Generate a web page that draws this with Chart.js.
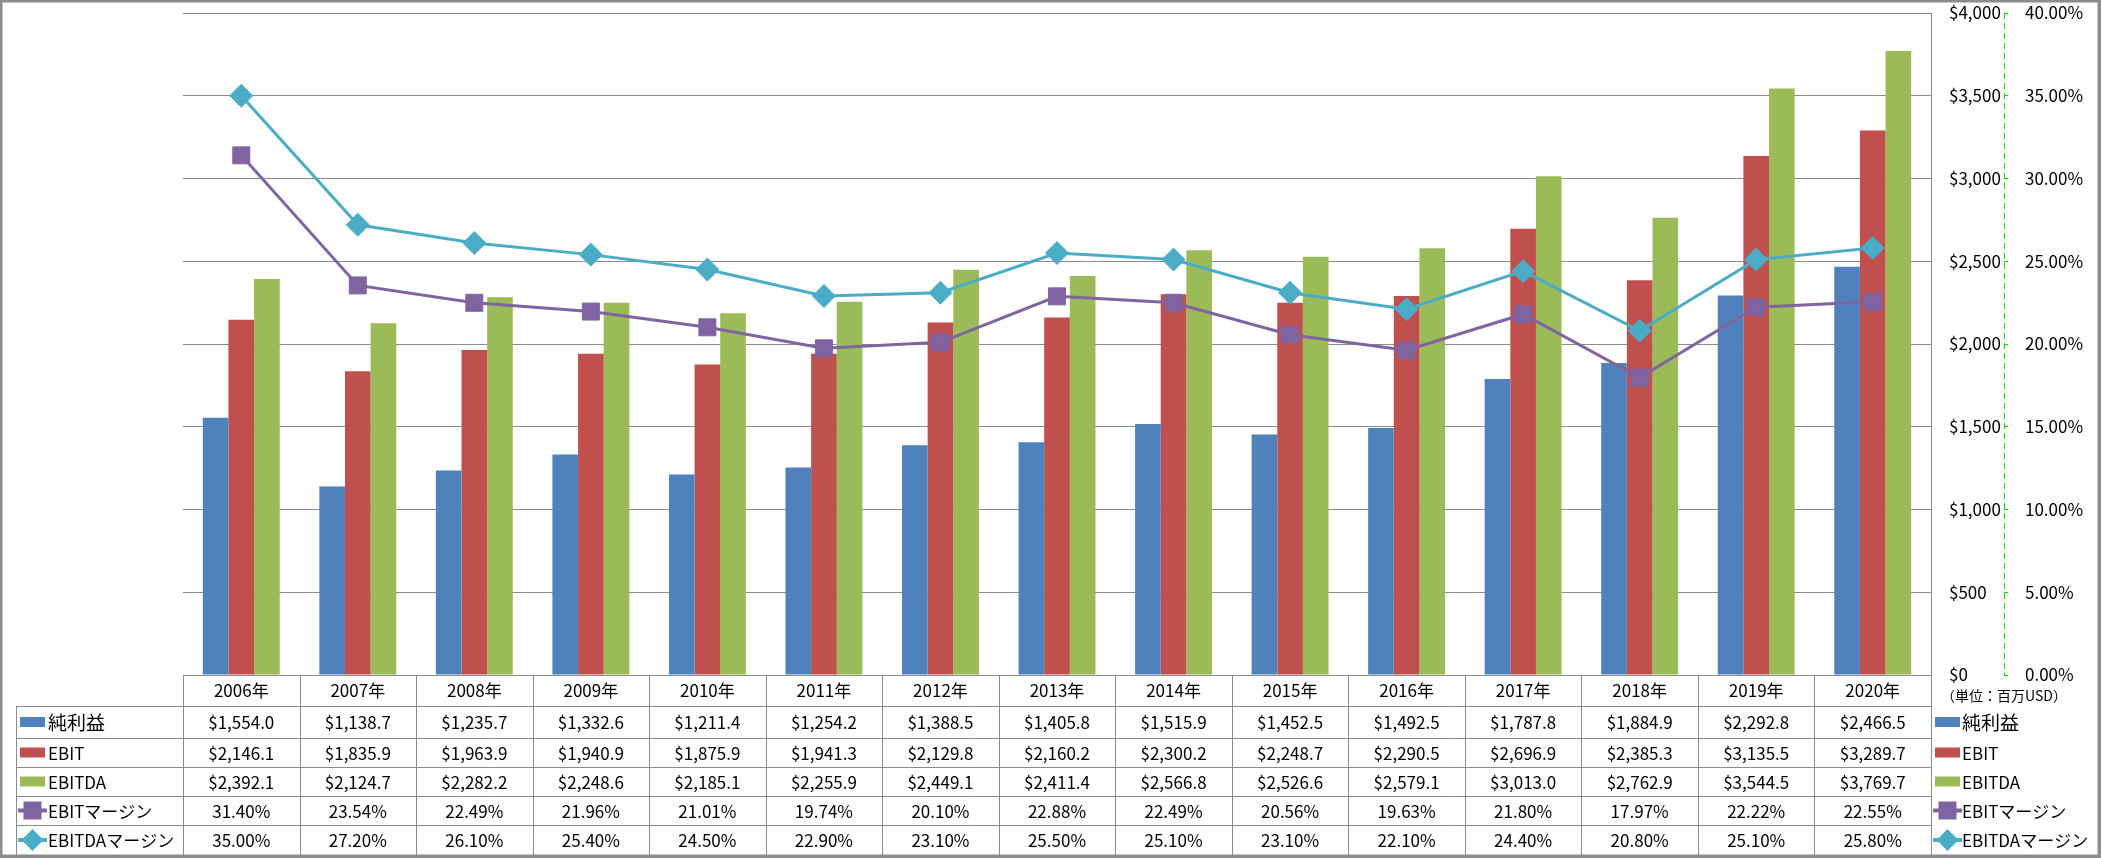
<!DOCTYPE html>
<html lang="ja">

<head>
    <meta charset="UTF-8">
    <title>純利益・EBIT・EBITDA</title>
    <script src="https://cdn.jsdelivr.net/npm/chart.js"></script>
    <style>
        body { margin: 0; background: #fff; }
        #caixa { position: relative; width: 2101px; height: 858px; }
    </style>
</head>

<body>
    <div id="caixa">
        <canvas id="grafico" width="2101" height="858"></canvas>
    </div>
</body>

</html>
<script>
    var anos = ['2006年', '2007年', '2008年', '2009年', '2010年', '2011年', '2012年', '2013年',
        '2014年', '2015年', '2016年', '2017年', '2018年', '2019年', '2020年'];

    var nomes = ['純利益', 'EBIT', 'EBITDA', 'EBITマージン', 'EBITDAマージン'];

    var lucro = [1554.0, 1138.7, 1235.7, 1332.6, 1211.4, 1254.2, 1388.5, 1405.8, 1515.9, 1452.5, 1492.5, 1787.8, 1884.9, 2292.8, 2466.5];
    var ebit = [2146.1, 1835.9, 1963.9, 1940.9, 1875.9, 1941.3, 2129.8, 2160.2, 2300.2, 2248.7, 2290.5, 2696.9, 2385.3, 3135.5, 3289.7];
    var ebitda = [2392.1, 2124.7, 2282.2, 2248.6, 2185.1, 2255.9, 2449.1, 2411.4, 2566.8, 2526.6, 2579.1, 3013.0, 2762.9, 3544.5, 3769.7];
    var margemEbit = [31.40, 23.54, 22.49, 21.96, 21.01, 19.74, 20.10, 22.88, 22.49, 20.56, 19.63, 21.80, 17.97, 22.22, 22.55];
    var margemEbitda = [35.00, 27.20, 26.10, 25.40, 24.50, 22.90, 23.10, 25.50, 25.10, 23.10, 22.10, 24.40, 20.80, 25.10, 25.80];

    var cores = ['#4F81BD', '#C0504D', '#9BBB59', '#8064A2', '#4BACC6'];
    var fonte = '"Noto Sans CJK JP", "Noto Sans", sans-serif';
    var cinza = '#8c8c8c';
    var verde = '#00e000';

    function dinheiro(v) {
        return '$' + v.toLocaleString('en-US', { minimumFractionDigits: 1, maximumFractionDigits: 1 });
    }

    // chave da legenda (barra ou linha com marcador)
    function chave(ctx, i, x, y) {
        ctx.fillStyle = cores[i];
        ctx.strokeStyle = cores[i];
        if (i < 3) {
            ctx.fillRect(x, y - 5, 25, 10);
            return;
        }
        ctx.lineWidth = 4;
        ctx.beginPath();
        ctx.moveTo(x - 2, y);
        ctx.lineTo(x + 27, y);
        ctx.stroke();
        var cx = x + 12.5;
        ctx.beginPath();
        if (i == 3) {
            ctx.rect(cx - 9, y - 9, 18, 18);
        } else {
            ctx.moveTo(cx, y - 11);
            ctx.lineTo(cx + 11, y);
            ctx.lineTo(cx, y + 11);
            ctx.lineTo(cx - 11, y);
            ctx.closePath();
        }
        ctx.fill();
    }

    // tabela de dados embaixo + legenda da direita + moldura
    var tabela = {
        id: 'tabela',
        afterDraw: function (chart) {
            var ctx = chart.ctx;
            var x = chart.scales.x;
            var y1 = chart.scales.y1;
            var w = (x.right - x.left) / anos.length;
            var linhas = [chart.chartArea.bottom, 706, 738, 767, 796, 825, 855];
            var esq = 16;
            var series = [lucro, ebit, ebitda, margemEbit, margemEbitda];

            ctx.save();
            // linha tracejada do eixo da direita (o border.dash do chart.js nao vale pra linha do eixo)
            ctx.strokeStyle = verde;
            ctx.lineWidth = 1;
            ctx.setLineDash([6, 4]);
            ctx.beginPath();
            ctx.moveTo(Math.round(y1.left) + 0.5, y1.top);
            ctx.lineTo(Math.round(y1.left) + 0.5, y1.bottom);
            ctx.stroke();
            ctx.setLineDash([]);

            ctx.strokeStyle = cinza;
            ctx.beginPath();
            // horizontais
            ctx.moveTo(x.left, linhas[0] + 0.5);
            ctx.lineTo(x.right, linhas[0] + 0.5);
            for (var r = 1; r < linhas.length - 1; r++) {
                ctx.moveTo(esq, linhas[r] + 0.5);
                ctx.lineTo(x.right, linhas[r] + 0.5);
            }
            // verticais
            for (var c = 0; c <= anos.length; c++) {
                var px = Math.round(x.left + c * w) + 0.5;
                ctx.moveTo(px, linhas[0]);
                ctx.lineTo(px, linhas[6]);
            }
            ctx.moveTo(esq + 0.5, linhas[1]);
            ctx.lineTo(esq + 0.5, linhas[6]);
            ctx.stroke();

            ctx.font = '17px ' + fonte;
            ctx.fillStyle = '#000';
            ctx.textBaseline = 'middle';
            ctx.textAlign = 'center';
            for (var c = 0; c < anos.length; c++) {
                var cx = x.getPixelForValue(c);
                ctx.fillText(anos[c], cx, (linhas[0] + linhas[1]) / 2);
                for (var s = 0; s < 5; s++) {
                    var v = series[s][c];
                    var txt = s < 3 ? dinheiro(v) : v.toFixed(2) + '%';
                    ctx.fillText(txt, cx, (linhas[s + 1] + linhas[s + 2]) / 2 + 1);
                }
            }

            // legendas (esquerda na tabela e direita)
            for (var s = 0; s < 5; s++) {
                var cy = (linhas[s + 1] + linhas[s + 2]) / 2;
                chave(ctx, s, 20, cy);
                chave(ctx, s, 1935, cy);
                ctx.fillStyle = '#000';
                ctx.textAlign = 'left';
                ctx.font = (s == 0 ? '19px ' : '17px ') + fonte;
                ctx.fillText(nomes[s], 48, cy + 1);
                ctx.fillText(nomes[s], 1962, cy + 1);
            }

            ctx.font = '14px ' + fonte;
            ctx.textAlign = 'center';
            ctx.fillText('（単位：百万USD）', 2004, 696);

            // moldura
            ctx.strokeStyle = cinza;
            ctx.strokeRect(0.5, 0.5, 2099, 856);
            ctx.restore();
        }
    };

    // o padding dos ticks entra no topo do grafico, entao zera aqui
    function largura(n) {
        return function (s) {
            s.width = n;
            s.paddingTop = 0;
            s.paddingBottom = 0;
        };
    }

    var config = {
        type: 'bar',
        data: {
            labels: anos,
            datasets: [
                {
                    type: 'line', label: nomes[3], data: margemEbit, yAxisID: 'y1', order: 0,
                    borderColor: cores[3], backgroundColor: cores[3], borderWidth: 3,
                    pointStyle: 'rect', pointRadius: 12, pointBorderWidth: 1, tension: 0
                },
                {
                    type: 'line', label: nomes[4], data: margemEbitda, yAxisID: 'y1', order: 0,
                    borderColor: cores[4], backgroundColor: cores[4], borderWidth: 3,
                    pointStyle: 'rectRot', pointRadius: 11.5, pointBorderWidth: 1, tension: 0
                },
                { label: nomes[0], data: lucro, backgroundColor: cores[0], yAxisID: 'y', order: 1 },
                { label: nomes[1], data: ebit, backgroundColor: cores[1], yAxisID: 'y', order: 1 },
                { label: nomes[2], data: ebitda, backgroundColor: cores[2], yAxisID: 'y', order: 1 }
            ]
        },
        options: {
            responsive: false,
            animation: false,
            layout: { autoPadding: false, padding: { left: 183, top: 13, right: 5, bottom: 183 } },
            plugins: { legend: { display: false }, tooltip: { enabled: false } },
            datasets: { bar: { categoryPercentage: 0.66, barPercentage: 1 } },
            scales: {
                x: { display: false, offset: true },
                y: {
                    position: 'right', weight: 0, min: 0, max: 4000,
                    ticks: {
                        stepSize: 500, padding: 18, color: '#000', font: { size: 17, family: fonte },
                        callback: function (v) { return '$' + v.toLocaleString('en-US'); }
                    },
                    grid: { color: cinza, drawTicks: false },
                    border: { color: cinza },
                    afterFit: largura(73)
                },
                y1: {
                    position: 'right', weight: 1, min: 0, max: 40,
                    ticks: {
                        stepSize: 5, padding: 17, color: '#000', font: { size: 17, family: fonte },
                        callback: function (v) { return v.toFixed(2) + '%'; }
                    },
                    grid: { drawOnChartArea: false, color: verde, tickLength: 4 },
                    border: { display: false },
                    afterFit: largura(92)
                }
            }
        },
        plugins: [tabela]
    };

    var grafico = new Chart(document.getElementById('grafico'), config);
</script>
